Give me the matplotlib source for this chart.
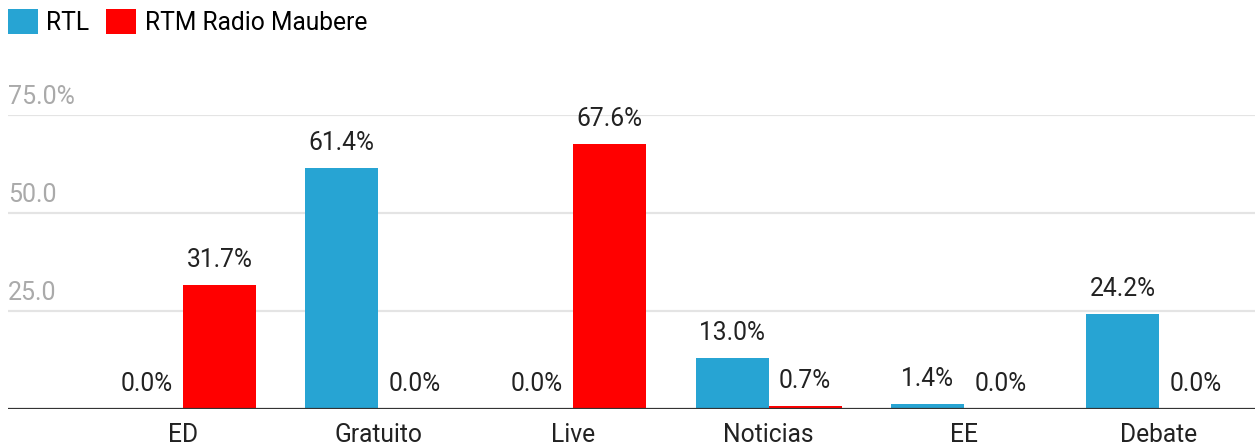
import matplotlib
matplotlib.use("Agg")
import matplotlib.pyplot as plt
import numpy as np

categories = ["ED", "Gratuito", "Live", "Noticias", "EE", "Debate"]
rtl = [0.0, 61.4, 0.0, 13.0, 1.4, 24.2]
rtm = [31.7, 0.0, 67.6, 0.7, 0.0, 0.0]
series_names = ["RTL", "RTM Radio Maubere"]
yticks = [25, 50, 75]
ytick_labels = ["25.0", "50.0", "75.0%"]

BLUE = "#27a4d3"
RED = "#ff0000"

plt.rcParams["font.family"] = ["Roboto", "DejaVu Sans"]

W, H = 1255, 448
fig = plt.figure(figsize=(W / 100, H / 100), dpi=100)
left, right = 8 / W, 1.0
bottom = (H - 409) / H
top = (H - 115) / H
ax = fig.add_axes([left, bottom, right - left, top - bottom])

x = np.arange(len(categories))
bw = 0.374
b1 = ax.bar(x - bw / 2, rtl, bw, color=BLUE, label=series_names[0], zorder=3)
b2 = ax.bar(x + bw / 2, rtm, bw, color=RED, label=series_names[1], zorder=3)

FS = 17.7
for bars, vals in ((b1, rtl), (b2, rtm)):
    for r, v in zip(bars, vals):
        ax.annotate(f"{v:.1f}%", (r.get_x() + r.get_width() / 2, v),
                    xytext=(0, 18), textcoords="offset points",
                    ha="center", va="center", fontsize=FS, color="#222222",
                    annotation_clip=False)

ax.set_xlim((8 - 183) / 195.2, (1255 - 183) / 195.2)
ax.set_ylim(0, 75)
for s in ax.spines.values():
    s.set_visible(False)
ax.axhline(0, color="#333333", lw=1.6, zorder=4)
for t in yticks:
    ax.axhline(t, color="#e4e4e4", lw=1.6, zorder=1)
ax.set_yticks([])
for t, lab in zip(yticks, ytick_labels):
    ax.annotate(lab, (0, t), xycoords=("axes fraction", "data"),
                xytext=(0, 13), textcoords="offset points",
                ha="left", va="center", fontsize=18, color="#aaaaaa",
                annotation_clip=False)

ax.set_xticks(x)
ax.set_xticklabels(categories, fontsize=FS, color="#222222")
ax.tick_params(axis="x", length=0, pad=10)

fig.legend(handles=[b1, b2], labels=series_names, loc="upper left",
           bbox_to_anchor=(8 / W, 1 - 9 / H), ncol=2, frameon=False,
           fontsize=FS, handlelength=1.2, handleheight=1.2,
           handletextpad=0.35, columnspacing=0.7, borderpad=0, borderaxespad=0)

fig.savefig("out.png", dpi=100)
